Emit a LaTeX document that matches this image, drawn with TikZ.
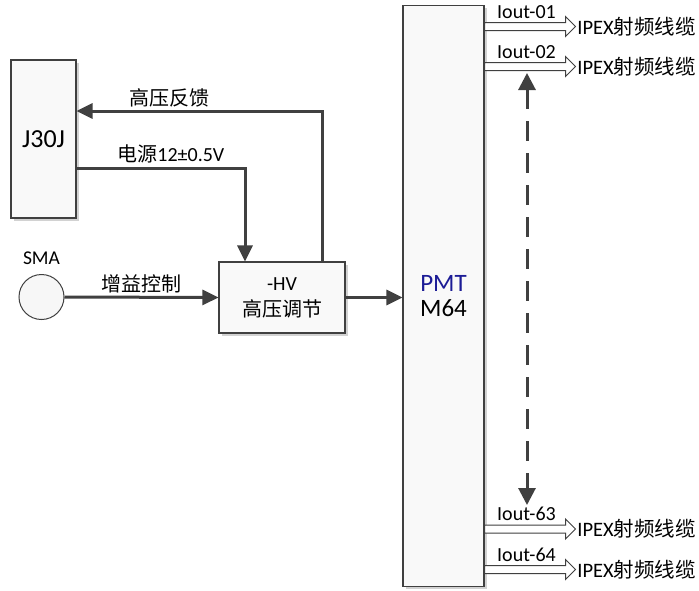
\documentclass[tikz,border=0pt]{standalone}
\usepackage{fontspec}
\setmainfont{Carlito}
\newfontfamily\cjk{Noto Sans CJK SC}
\usetikzlibrary{arrows.meta, positioning, shapes.arrows, shadows}
\definecolor{linegray}{RGB}{64,64,64}
\definecolor{pmtblue}{RGB}{28,28,150}
\tikzset{
  box/.style    = {draw=linegray, line width=1.1pt, fill=gray!5, align=center,
                   inner sep=0pt, drop shadow={shadow xshift=2.5pt,
                   shadow yshift=-2.5pt, fill=gray!35, opacity=1}},
  lbl/.style    = {font=\fontsize{20}{22}\selectfont, inner sep=0pt},
  fl/.style     = {-{Triangle[length=16pt,width=15pt]}, line width=3pt, draw=linegray},
  dfl/.style    = {{Triangle[length=17pt,width=17pt]}-{Triangle[length=17pt,width=17pt]},
                   line width=3pt, draw=linegray, dash pattern=on 20pt off 12pt},
  outarr/.style = {single arrow, draw=linegray, line width=1pt, fill=white,
                   minimum height=91pt, minimum width=19pt, inner xsep=0pt,
                   inner ysep=3.5pt, single arrow head extend=6pt, anchor=west},
  ipex/.style   = {font=\fontsize{20.5}{22}\selectfont, inner sep=1pt, anchor=west},
}

\begin{document}
\begin{tikzpicture}[x=1pt, y=-1pt]
  \useasboundingbox[fill=white] (0,0) rectangle (699,590);
  % blocks
  \node[box, minimum width=65pt, minimum height=158pt,
        font=\fontsize{26}{28}\selectfont] (j30) at (43.5,139) {J30J};
  \node[box, minimum width=126pt, minimum height=71pt,
        font=\fontsize{20}{26}\selectfont] (hv) at (282,297.5) {-HV\\{\cjk 高压调节}};
  \node[box, minimum width=81pt, minimum height=581pt,
        font=\fontsize{25}{25}\selectfont] (pmt) at (443.5,296)
        {\textcolor{pmtblue}{PMT}\\M64};
  \node[circle, draw=linegray, line width=1pt, fill=gray!6,
        minimum size=45pt, inner sep=0pt] (sma) at (41.5,297) {};
  \node[font=\fontsize{19.5}{20}\selectfont, inner sep=0pt] (smalbl) at (41.5,258) {SMA};
  % control lines
  \draw[fl] ([xshift=40pt]hv.north) |- node[lbl, pos=0.81, above=2pt]{\cjk 高压反馈}
            ([yshift=28pt]j30.east);
  \draw[fl] ([yshift=-29pt]j30.east) -| node[lbl, pos=0.28, above=3pt]{{\cjk 电源}12±0.5V}
            ([xshift=-37pt]hv.north);
  \draw[fl] (sma.east) -- node[lbl, above=3pt]{\cjk 增益控制} (hv.west);
  \draw[fl] (hv.east) -- (hv.east -| pmt.west);
  % outputs
  \foreach \n/\y in {01/26.5, 02/66.5, 63/529, 64/569.5}{
    \node[outarr] (o\n) at (484,\y) {};
    \node[lbl, anchor=base west] (i\n) at ([xshift=13pt,yshift=8.5pt]o\n.west) {Iout-\n};
    \node[ipex] (t\n) at (o\n.tip) {IPEX{\cjk 射频线缆}};
  }
  \coordinate (dtop) at (527,73);
  \coordinate (dbot) at (527,505);
  \draw[dfl] (dtop) -- (dbot);
\end{tikzpicture}
\end{document}
